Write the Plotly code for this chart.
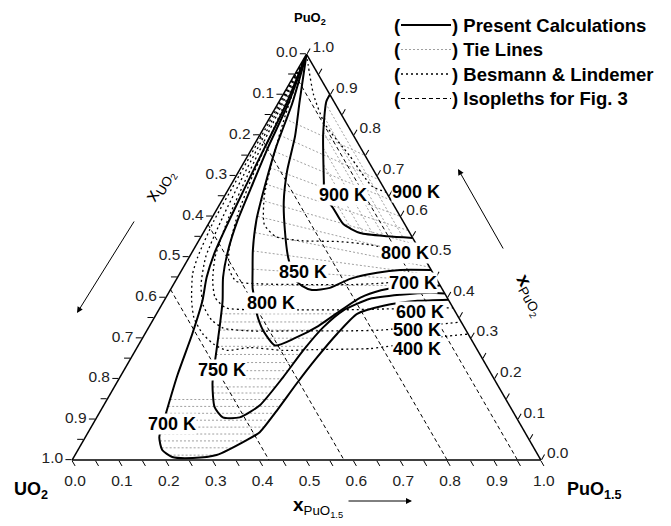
import plotly.graph_objects as go

# ---------------- data (mole fractions: PuO2 = top vertex, PuO1.5 = bottom-right) -------------
# Present calculations (solid isotherms)
PC700_PUO2 = [1.0, 0.88, 0.77, 0.674, 0.59, 0.515, 0.45, 0.392, 0.311, 0.21, 0.118, 0.056, 0.0245,
              0.0074, 0.0049, 0.0123, 0.049, 0.0686, 0.1225, 0.189, 0.252, 0.311, 0.36, 0.38, 0.392, 0.395]
PC700_PUO15 = [0.0, 0.018, 0.026, 0.033, 0.04, 0.048, 0.062, 0.082, 0.101, 0.12, 0.142, 0.158, 0.18,
               0.21, 0.255, 0.302, 0.348, 0.366, 0.376, 0.385, 0.396, 0.41, 0.428, 0.474, 0.541, 0.605]

PC750_PUO2 = [1.0, 0.88, 0.77, 0.674, 0.59, 0.515, 0.45, 0.392, 0.33, 0.27, 0.189, 0.13, 0.105,
              0.105, 0.135, 0.203, 0.27, 0.326, 0.368, 0.397, 0.407, 0.412, 0.41]
PC750_PUO15 = [0.0, 0.022, 0.033, 0.046, 0.058, 0.075, 0.097, 0.125, 0.15, 0.173, 0.205, 0.239, 0.269,
               0.305, 0.333, 0.348, 0.358, 0.372, 0.394, 0.437, 0.497, 0.558, 0.59]

PC800_PUO2 = [1.0, 0.88, 0.77, 0.674, 0.59, 0.515, 0.47, 0.424, 0.39, 0.36, 0.319, 0.282,
              0.30, 0.33, 0.37, 0.40, 0.418, 0.427, 0.43]
PC800_PUO15 = [0.0, 0.03, 0.05, 0.074, 0.098, 0.128, 0.15, 0.173, 0.195, 0.214, 0.248, 0.292,
               0.325, 0.36, 0.39, 0.415, 0.45, 0.49, 0.57]

PC850_PUO2 = [1.0, 0.944, 0.88, 0.797, 0.711, 0.637, 0.564, 0.498, 0.446, 0.429, 0.419, 0.424,
              0.446, 0.461, 0.468, 0.468]
PC850_PUO15 = [0.0, 0.021, 0.045, 0.077, 0.103, 0.133, 0.172, 0.212, 0.252, 0.276, 0.302, 0.338,
               0.37, 0.42, 0.466, 0.532]

PC900_PUO2 = [0.9, 0.882, 0.801, 0.686, 0.65, 0.62, 0.581, 0.559, 0.551, 0.547]
PC900_PUO15 = [0.1, 0.101, 0.135, 0.194, 0.213, 0.247, 0.288, 0.335, 0.397, 0.453]

# Besmann & Lindemer (dotted isotherms)
BL400_PUO2 = [1.0, 0.85, 0.7, 0.588, 0.5, 0.458, 0.392, 0.35, 0.311, 0.285, 0.27, 0.277, 0.27,
              0.272, 0.2745, 0.282, 0.304, 0.31]
BL400_PUO15 = [0.0, 0.004, 0.006, 0.008, 0.018, 0.028, 0.059, 0.085, 0.123, 0.16, 0.195, 0.24, 0.315,
               0.386, 0.499, 0.544, 0.64, 0.69]
BL500_PUO2 = [1.0, 0.85, 0.7, 0.6, 0.5, 0.43, 0.38, 0.345, 0.325, 0.318, 0.318, 0.318, 0.32, 0.33, 0.34]
BL500_PUO15 = [0.0, 0.008, 0.015, 0.022, 0.035, 0.06, 0.09, 0.125, 0.16, 0.22, 0.32, 0.42, 0.5, 0.58, 0.66]
BL600_PUO2 = [1.0, 0.85, 0.7, 0.6, 0.5, 0.44, 0.4, 0.375, 0.37, 0.37, 0.37, 0.372, 0.375]
BL600_PUO15 = [0.0, 0.012, 0.024, 0.035, 0.055, 0.08, 0.105, 0.14, 0.2, 0.3, 0.4, 0.48, 0.625]
BL700_PUO2 = [1.0, 0.85, 0.7, 0.6, 0.52, 0.47, 0.44, 0.434, 0.432, 0.432, 0.436, 0.45]
BL700_PUO15 = [0.0, 0.018, 0.035, 0.052, 0.075, 0.1, 0.13, 0.18, 0.28, 0.38, 0.45, 0.55]
BL800_PUO2 = [1.0, 0.85, 0.75, 0.65, 0.58, 0.55, 0.54, 0.538, 0.53, 0.515, 0.5]
BL800_PUO15 = [0.0, 0.03, 0.055, 0.085, 0.12, 0.16, 0.22, 0.3, 0.37, 0.44, 0.5]
BL900_PUO2 = [1.0, 0.973, 0.9, 0.828, 0.748, 0.674, 0.66]
BL900_PUO15 = [0.0, 0.017, 0.065, 0.125, 0.219, 0.303, 0.34]

# Isopleths for Fig. 3 (constant UO2 fraction, from UO2-PuO2 edge to UO2-PuO1.5 edge)
ISO_UO2 = [0.05, 0.2, 0.42, 0.58]

# Tie lines: start / end compositions
TIE_PUO2_A = [0.012, 0.03, 0.047, 0.064, 0.081, 0.098, 0.115, 0.132, 0.149,
              0.165, 0.18, 0.20, 0.22, 0.24, 0.26, 0.28, 0.30, 0.32, 0.34, 0.36,
              0.43, 0.47, 0.515, 0.56, 0.60, 0.64, 0.68, 0.72, 0.76, 0.80, 0.84,
              0.879, 0.843, 0.808, 0.768, 0.727, 0.686]
TIE_PUO15_A = [0.202, 0.176, 0.164, 0.156, 0.152, 0.147, 0.143, 0.139, 0.135,
               0.219, 0.210, 0.201, 0.193, 0.185, 0.177, 0.169, 0.161, 0.154, 0.146, 0.138,
               0.17, 0.15, 0.128, 0.11, 0.096, 0.083, 0.072, 0.062, 0.052, 0.043, 0.035,
               0.101, 0.117, 0.132, 0.152, 0.173, 0.194]
TIE_PUO2_B = [0.012, 0.03, 0.047, 0.064, 0.081, 0.098, 0.115, 0.132, 0.149,
              0.165, 0.18, 0.20, 0.22, 0.24, 0.26, 0.28, 0.30, 0.32, 0.34, 0.36,
              0.43, 0.44, 0.455, 0.475, 0.50, 0.53, 0.565, 0.60, 0.64, 0.69, 0.75,
              0.549, 0.55, 0.552, 0.554, 0.557, 0.571]
TIE_PUO15_B = [0.302, 0.323, 0.346, 0.362, 0.370, 0.373, 0.376, 0.378, 0.379,
               0.339, 0.343, 0.347, 0.350, 0.353, 0.357, 0.360, 0.366, 0.370, 0.378, 0.39,
               0.57, 0.56, 0.545, 0.525, 0.50, 0.47, 0.435, 0.40, 0.36, 0.31, 0.25,
               0.431, 0.41, 0.388, 0.366, 0.343, 0.309]

AXIS_TICKS = [i / 20 for i in range(21)]

# ---------------- figure ----------------
FONT = "Liberation Sans, Arial, Helvetica, sans-serif"
fig = go.Figure()


def add_curve(a_vals, c_vals, color, width, dash, shape="linear"):
    b_vals = [None if a is None else 1 - a - c for a, c in zip(a_vals, c_vals)]
    fig.add_trace(go.Scatterternary(
        a=a_vals, b=b_vals, c=c_vals, mode="lines",
        line=dict(color=color, width=width, dash=dash, shape=shape, smoothing=0.6),
        showlegend=False, hoverinfo="skip", connectgaps=False))


# tie lines (one trace, segments separated by gaps)
tie_a, tie_c = [], []
for a0, c0, a1, c1 in zip(TIE_PUO2_A, TIE_PUO15_A, TIE_PUO2_B, TIE_PUO15_B):
    tie_a += [a0, a1, None]
    tie_c += [c0, c1, None]
add_curve(tie_a, tie_c, "#a0a0a0", 1, "2px,2px")

# isopleths
iso_a, iso_c = [], []
for bu in ISO_UO2:
    iso_a += [1 - bu, 0.0, None]
    iso_c += [0.0, 1 - bu, None]
add_curve(iso_a, iso_c, "black", 1, "4px,3px")

# Besmann & Lindemer
for a_vals, c_vals in [(BL400_PUO2, BL400_PUO15), (BL500_PUO2, BL500_PUO15),
                       (BL600_PUO2, BL600_PUO15), (BL700_PUO2, BL700_PUO15),
                       (BL800_PUO2, BL800_PUO15), (BL900_PUO2, BL900_PUO15)]:
    add_curve(a_vals, c_vals, "black", 1.3, "2px,3px", "spline")

# present calculations
for a_vals, c_vals in [(PC700_PUO2, PC700_PUO15), (PC750_PUO2, PC750_PUO15),
                       (PC800_PUO2, PC800_PUO15), (PC850_PUO2, PC850_PUO15),
                       (PC900_PUO2, PC900_PUO15)]:
    add_curve(a_vals, c_vals, "black", 2, "solid", "spline")


def axis(ticktext):
    return dict(
        tickmode="array", tickvals=AXIS_TICKS, ticktext=ticktext,
        ticks="outside", ticklen=6, tickwidth=1, tickcolor="black",
        showgrid=False, linecolor="black", linewidth=1.5, showline=True,
        tickfont=dict(family=FONT, size=15.5, color="#222"), title=dict(text=""),
    )


tick_text = [f"{1 - v:.1f}" if i % 2 == 0 else "" for i, v in enumerate(AXIS_TICKS)]

# the page body adds an 8 px offset, so the figure is drawn 8 px smaller and
# reference pixel positions are shifted by that offset
OFF = 8
W, H = 671 - OFF, 526 - OFF
L, T = 72 - OFF, 54 - OFF
PW, PH = 469, 406
R, B = W - L - PW, H - T - PH


def px(xp):
    return (xp - OFF - L) / PW


def py(yp):
    return (T + PH - (yp - OFF)) / PH


annotations = []


def text(xp, yp, s, size=18, bold=True, angle=0, bg=None, anchor="center"):
    annotations.append(dict(
        x=px(xp), y=py(yp), xref="paper", yref="paper", text=f"<b>{s}</b>" if bold else s,
        showarrow=False, textangle=angle, xanchor=anchor, yanchor="middle",
        font=dict(family=FONT, size=size, color="black"),
        bgcolor=bg, borderpad=0))


# isotherm labels
for xp, yp, s in [(343, 195, "900 K"), (303, 272, "850 K"), (271, 303, "800 K"),
                  (222, 370, "750 K"), (172, 424, "700 K"),
                  (416, 192, "900 K"), (405, 253, "800 K"), (413, 283, "700 K"),
                  (420, 312, "600 K"), (417, 330, "500 K"), (417, 349, "400 K")]:
    text(xp, yp, s, bg="white")

# vertex names
text(310, 18, "PuO<sub>2</sub>", size=13)
text(31, 490, "UO<sub>2</sub>", size=18)
text(594, 490, "PuO<sub>1.5</sub>", size=18)

# axis captions
text(160, 186, "x<sub>UO<sub>2</sub></sub>", size=19, bold=False, angle=-60)
text(530, 295, "<b>x</b><sub>PuO<sub>2</sub></sub>", size=19, bold=False, angle=60)
text(318, 507, "<b>x</b><sub>PuO<sub>1.5</sub></sub>", size=19, bold=False)

# direction arrows
for hx, hy, tx, ty in [(77, 313, 135, 220), (458, 169, 504, 250), (412, 501, 347, 501)]:
    annotations.append(dict(x=px(hx), y=py(hy), xref="paper", yref="paper", text="",
                            showarrow=True, arrowhead=2, arrowsize=1.2, arrowwidth=1,
                            arrowcolor="black", ax=tx - hx, ay=ty - hy))

# legend (drawn manually)
shapes = []
legend_rows = [("Present Calculations", "black", 2, "solid"),
               ("Tie Lines", "#a0a0a0", 1, "2px,2px"),
               ("Besmann &amp; Lindemer", "black", 1.3, "2px,3px"),
               ("Isopleths for Fig. 3", "black", 1, "4px,3px")]
for i, (label, col, wid, dsh) in enumerate(legend_rows):
    yrow = 25 + i * 24.5
    text(397, yrow, "(", size=18.5)
    text(451, yrow, ") " + label, size=18.5, anchor="left")
    shapes.append(dict(type="line", xref="paper", yref="paper",
                       x0=px(401), x1=px(451), y0=py(yrow), y1=py(yrow),
                       line=dict(color=col, width=wid, dash=dsh)))

fig.update_layout(
    width=W, height=H, margin=dict(l=L, r=R, t=T, b=B),
    paper_bgcolor="white", plot_bgcolor="white",
    ternary=dict(domain=dict(x=[0, 1], y=[0, 1]), bgcolor="white", sum=1,
                 aaxis=axis(tick_text), baxis=axis(tick_text), caxis=axis(tick_text)),
    annotations=annotations, shapes=shapes, showlegend=False,
    font=dict(family=FONT),
)

fig.write_html("out.html")
